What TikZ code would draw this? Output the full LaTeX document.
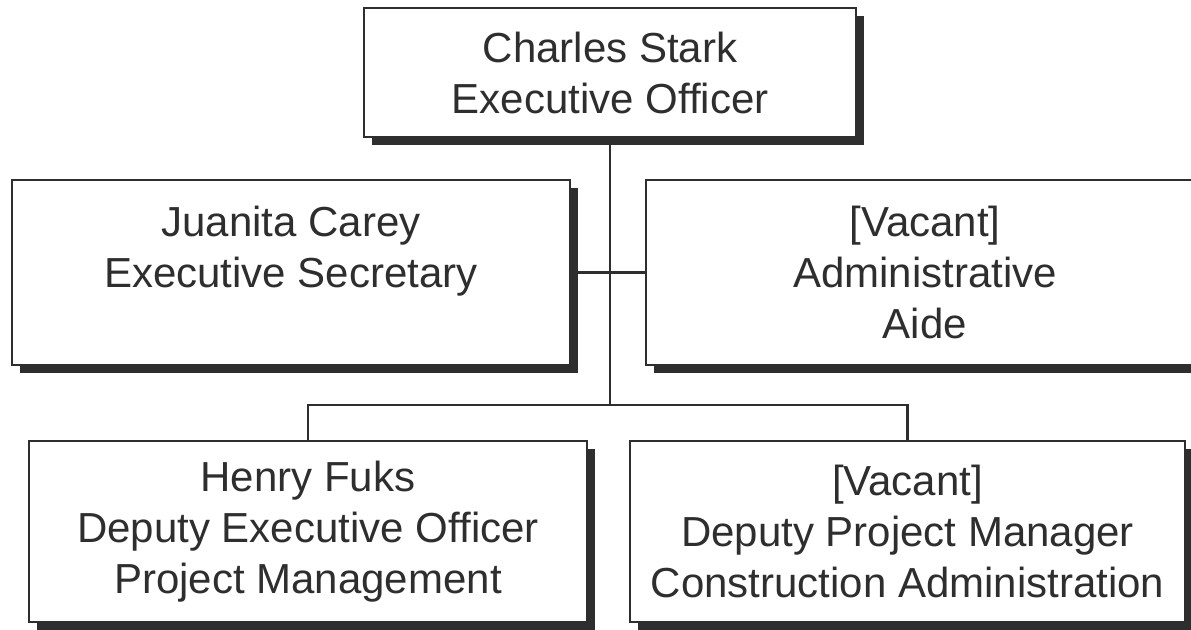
\documentclass[tikz,border=0pt]{standalone}
\usepackage{fontspec}
\setmainfont{Liberation Sans}
\usepackage{tikz}
\usetikzlibrary{shadows}
\definecolor{ink}{HTML}{2E2E2E}

\begin{document}
\begin{tikzpicture}[
    x=1pt, y=-1pt,
    bx/.style={draw=ink, line width=2.8pt, fill=white, align=center, text=ink,
      font=\fontsize{42}{51}\selectfont, inner sep=0pt,
      drop shadow={shadow xshift=8pt, shadow yshift=-8pt, fill=ink, opacity=1}},
    ln/.style={draw=ink, line width=2.8pt}
  ]
    \useasboundingbox (0,0) rectangle (1191,629);
    % ---- top ----
    \node[bx, minimum width=492pt, minimum height=129pt] (ceo) at (610,72.5)
      {Charles Stark\\Executive Officer};
    % ---- staff ----
    \node[bx, minimum width=558pt, minimum height=185pt] (sec) at (291,272.5)
      {Juanita Carey\\Executive Secretary\\~};
    \node[bx, minimum width=558pt, minimum height=185pt] (aide) at (925,272.5)
      {[Vacant]\\Administrative\\Aide};
    % ---- deputies ----
    \node[bx, minimum width=558pt, minimum height=181pt] (dep1) at (308,531.5)
      {Henry Fuks\\Deputy Executive Officer\\Project Management};
    \node[bx, minimum width=555pt, minimum height=181pt] (dep2) at (907.5,531.5)
      {[Vacant]\\Deputy Project Manager\\Construction Administration};
    % ---- lines ----
    \coordinate (bar) at (610,405);
    \draw[ln] (ceo.south) -- (bar);
    \draw[ln] (sec.east) -- (aide.west);
    \draw[ln] (dep1.north) |- (bar) -| (dep2.north);
  \end{tikzpicture}
\end{document}
